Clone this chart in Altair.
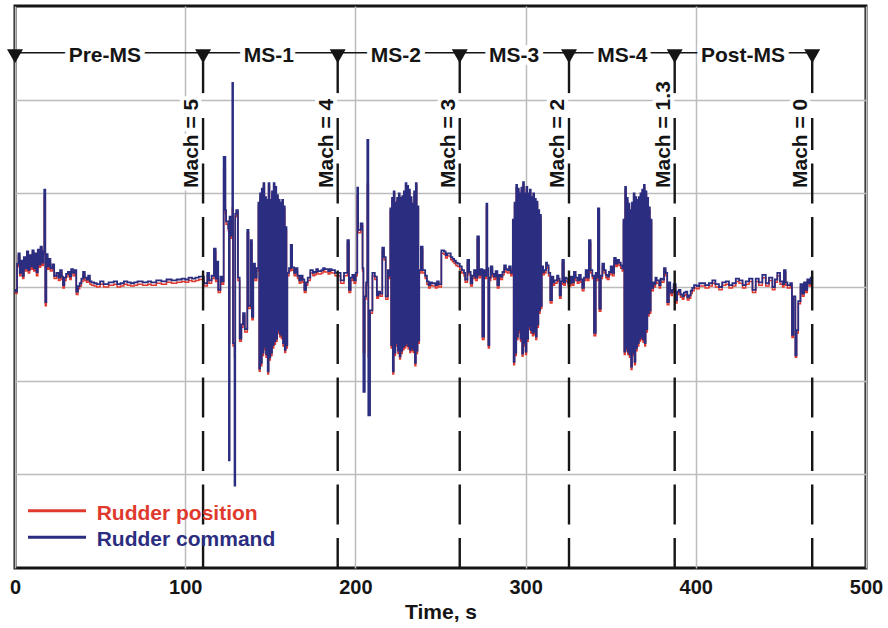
import altair as alt
import pandas as pd

# ---------------- data ----------------
# Rudder command, (time s, value) by phase
CMD_PRE = [(0, -0.3), (0.5, -0.5), (1.2, 2.5), (2.0, 3.6), (2.8, 1.5), (3.5, 2.8), (4.5, 1.2), (5.2, 3.2),
           (6.0, 2.0), (7.0, 3.8), (7.8, 1.8), (8.6, 3.4), (9.4, 2.2), (10.2, 3.9), (11.0, 2.0), (11.8, 3.6),
           (12.6, 1.6), (13.4, 4.0), (14.2, 2.4), (15.0, 4.3), (15.8, 2.6), (16.6, 3.8), (17.2, 10.4),
           (17.8, -1.6), (18.4, 3.5), (19.2, 2.2), (20.0, 3.0), (20.8, 2.0), (22.0, 2.4), (23.0, 1.2),
           (24.3, 1.5), (25.5, 1.0), (26.5, 1.8), (27.5, 1.1), (28.2, 0.2), (29.0, 1.0), (30.0, 1.4),
           (31.1, 1.6), (32.2, 1.1), (33.0, 1.9), (34.1, 1.5), (35.2, 1.8), (36.0, -0.5), (37.0, 0.1),
           (38.0, 0.4), (39.0, 0.9), (40.0, 1.6), (41.0, 1.0), (42.0, 0.8), (43.0, 1.2), (44.0, 0.6),
           (45.0, 0.5), (46.5, 0.4), (48.0, 0.3), (50.0, 0.6), (52.0, 0.3), (55.0, 0.5), (58.0, 0.6),
           (60.0, 0.3), (62.0, 0.4), (64.0, 0.6), (66.0, 0.5), (68.0, 0.4), (70.0, 0.5), (72.0, 0.6),
           (75.0, 0.5), (78.0, 0.6), (80.0, 0.5), (83.0, 0.7), (86.0, 0.6), (89.0, 0.8), (92.0, 0.7),
           (95.0, 0.8), (98.0, 0.9), (100.0, 0.8), (102.0, 1.0), (104.0, 0.9), (106.0, 1.0), (108.0, 1.1),
           (109.1, 1.1)]
CMD_MS1 = [(111.0, 0.4), (113.0, 1.5), (114.0, 0.7), (115.5, 1.2), (116.9, 4.1), (117.9, 0.9), (118.8, 2.7),
           (119.4, -0.3), (120.7, 1.1), (121.6, 0.6), (122.6, 13.9), (123.6, 8.2), (124.0, 7.0), (125.3, 6.3),
           (125.7, -18.5), (126.1, 7.5), (126.8, 5.5), (127.7, 21.8), (128.1, -6.0), (129.0, -21.2),
           (129.4, 7.8), (130.0, 8.2), (131.0, 1.0), (132.0, -5.5), (133.0, -4.0), (134.0, -2.8),
           (135.0, -4.5), (136.5, 6.1), (137.2, -2.0), (138.5, 5.0), (139.2, -3.2), (140.0, 2.5),
           (141.0, 1.0), (142.0, 2.0),
           (143.0, 9.0), (143.5, -8.7), (144.0, 10.0), (144.5, -8.1), (145.0, 10.5), (145.5, -7.0),
           (146.0, 11.1), (146.5, -6.4), (147.0, 9.6), (147.5, -7.2), (148.0, 9.3), (148.5, -9.0),
           (149.0, 11.1), (149.5, -7.5), (150.0, 9.3), (150.5, -7.0), (151.0, 10.2), (151.5, -6.2),
           (152.0, 11.1), (152.5, -5.8), (153.0, 10.7), (153.5, -5.5), (154.0, 9.8), (154.5, -4.6),
           (155.0, 9.3), (155.5, -5.0), (156.0, 9.0), (156.5, -5.2), (157.0, 9.3), (157.5, -6.0),
           (158.0, 8.6), (158.5, -6.7), (159.0, 6.4), (159.5, -6.2),
           (160.0, 1.5), (161.0, 2.0), (162.0, 4.5), (162.8, 2.1), (164.0, 1.5), (165.0, 2.0), (166.0, 1.2),
           (167.0, 0.7), (168.0, 1.2), (169.0, 0.8), (170.0, -0.3), (171.0, 0.5), (172.0, 1.0), (173.5, 1.8),
           (175.0, 1.5), (176.0, 1.6), (177.0, 1.9), (178.0, 1.7), (180.0, 1.8), (181.0, 2.0), (182.0, 1.9),
           (184.0, 1.7), (185.0, 1.9), (186.0, 1.8), (188.0, 1.5), (189.4, 1.5)]
CMD_MS2 = [(191.3, 0.7), (193.3, 1.5), (195.3, 5.0), (196.2, -0.3), (197.2, 1.0), (198.2, 1.3), (199.2, 0.7),
           (200.2, 1.5), (201.1, 10.6), (201.6, 6.1), (203.1, 6.8), (204.2, 2.0), (204.7, -11.2),
           (205.5, -1.0), (206.3, 0.5), (207.0, 15.7), (207.6, -13.7), (208.6, -2.5), (210.0, 1.5),
           (211.4, 1.1), (212.6, -0.9), (213.5, -0.5), (214.5, -0.7), (215.8, 4.2), (216.8, 3.2),
           (217.8, -1.0), (219.1, 1.8), (220.0, 1.2),
           (220.5, 8.4), (221.0, -6.2), (221.5, 9.5), (222.0, -9.0), (222.5, 10.2), (223.0, -7.0),
           (223.5, 9.0), (224.0, -6.0), (224.5, 9.5), (225.0, -6.8), (225.5, 10.0), (226.0, -7.4),
           (226.5, 9.5), (227.0, -6.8), (227.5, 9.7), (228.0, -6.4), (228.5, 10.2), (229.0, -6.2),
           (229.5, 11.1), (230.0, -6.0), (230.5, 10.8), (231.0, -6.3), (231.5, 10.4), (232.0, -6.7),
           (232.5, 9.6), (233.0, -6.5), (233.5, 8.9), (234.0, -6.7), (234.5, 10.2), (235.0, -8.1),
           (235.5, 11.1), (236.0, -6.8), (236.5, 8.6), (237.0, -5.7),
           (237.5, 1.8), (238.5, 4.3), (239.5, 1.8), (241.0, 1.2), (242.0, 0.6), (243.0, 0.2), (244.0, 0.5),
           (245.0, 0.4), (247.0, 0.2), (248.0, 0.6), (249.0, 0.3), (250.5, 3.9), (252.0, 3.8), (253.0, 3.4),
           (254.0, 3.6), (256.0, 3.2), (257.0, 3.0), (258.0, 2.8), (259.0, 2.6), (260.0, 2.5), (261.3, 2.2)]
CMD_MS3 = [(262.5, 1.8), (263.8, 1.5), (264.5, 0.8), (265.8, 2.9), (266.8, 1.6), (267.7, 0.4), (268.7, 1.2),
           (269.7, 1.8), (270.6, 1.0), (271.6, 5.4), (272.6, 1.3), (273.6, 1.9), (274.6, -5.3), (275.6, 1.8),
           (276.3, 1.2), (277.0, 8.9), (277.5, 2.0), (278.1, -6.2), (278.7, 1.0), (279.5, 2.2), (280.5, 1.4),
           (281.4, 1.1), (282.4, 1.7), (283.4, 0.2), (284.4, 1.3), (285.4, 1.1), (286.4, 1.6), (287.4, 2.3),
           (288.4, 1.9), (289.3, 1.8), (290.3, 2.2), (291.3, 1.5), (292.0, 1.7),
           (292.5, 7.2), (293.0, -8.0), (293.5, 9.0), (294.0, -7.0), (294.5, 10.9), (295.0, -5.3),
           (295.5, 10.5), (296.0, -4.6), (296.5, 10.0), (297.0, -5.5), (297.5, 10.6), (298.0, -7.1),
           (298.5, 11.2), (299.0, -6.0), (299.5, 10.0), (300.0, -6.9), (300.5, 10.7), (301.0, -5.5),
           (301.5, 10.0), (302.0, -4.2), (302.5, 10.4), (303.0, -4.6), (303.5, 9.6), (304.0, -4.9),
           (304.5, 10.0), (305.0, -4.8), (305.5, 9.4), (306.0, -5.3), (306.5, 9.1), (307.0, -4.0),
           (307.5, 8.2), (308.0, -2.5), (308.5, 7.7), (309.0, -2.0),
           (309.5, 2.2), (310.3, 1.6), (311.0, 1.8), (312.0, 2.6), (312.6, 2.3), (313.5, 1.5), (314.5, -1.4),
           (315.5, 1.1), (316.3, 0.5), (317.0, 0.7), (318.5, 1.2), (319.3, 0.9), (320.0, -0.9), (320.8, 0.6),
           (321.6, 2.9), (322.5, 0.5), (323.3, 1.0), (324.0, 0.9), (325.0, 0.4)]
CMD_MS4 = [(326.5, 1.1), (327.5, 0.5), (328.4, 1.6), (329.4, 1.0), (330.4, 0.7), (331.4, 1.3), (332.4, 0.8),
           (333.3, -0.1), (334.3, 1.0), (335.3, 1.8), (336.3, 1.0), (337.2, 5.0), (338.2, 1.8), (339.2, 1.2),
           (340.2, -4.9), (341.2, 1.5), (341.9, 1.0), (342.5, 8.4), (343.3, -2.3), (344.2, 1.2), (345.1, 2.5),
           (346.1, 1.8), (347.1, 1.3), (348.0, 1.1), (349.0, 1.6), (350.0, 2.2), (351.0, 1.5), (352.0, 3.1),
           (353.0, 2.5), (353.9, 2.9), (354.9, 2.6), (355.9, 2.3), (356.8, 2.0),
           (357.5, 7.2), (358.0, -6.9), (358.5, 10.7), (359.0, -6.5), (359.5, 9.5), (360.0, -6.9),
           (360.5, 8.9), (361.0, -7.2), (361.5, 8.2), (362.0, -8.5), (362.5, 9.0), (363.0, -7.0),
           (363.5, 10.0), (364.0, -8.0), (364.5, 9.6), (365.0, -6.5), (365.5, 9.3), (366.0, -6.0),
           (366.5, 9.6), (367.0, -5.5), (367.5, 10.0), (368.0, -5.3), (368.5, 10.4), (369.0, -5.6),
           (369.5, 10.9), (370.0, -6.0), (370.5, 10.2), (371.0, -4.5), (371.5, 9.5), (372.0, -2.8),
           (372.5, 8.5), (373.0, -2.5), (373.5, 7.2),
           (374.0, -0.1), (375.0, 0.5), (375.5, 0.3), (376.3, 1.0), (377.0, 0.7), (378.5, 0.2), (379.3, 0.9),
           (380.0, 0.8), (381.3, 2.0), (382.3, 1.5), (383.2, -1.6), (384.2, 0.5), (385.0, -0.4), (385.5, -0.6),
           (386.2, -0.3), (387.0, 0.3)]
CMD_POST = [(388.2, -1.4), (389.0, -0.5), (390.0, -0.3), (391.0, -0.8), (392.1, -1.0), (393.0, -0.6),
            (394.0, -0.5), (395.0, -1.1), (396.0, -0.9), (397.0, -0.4), (397.9, -0.1), (399.0, 0.2),
            (400.5, 0.1), (402.0, 0.4), (403.8, 0.4), (405.5, 0.2), (407.7, 0.4), (409.7, 0.7), (411.5, 0.3),
            (413.6, 0.0), (415.5, 0.5), (417.6, 0.6), (419.5, 0.2), (421.5, 0.4), (423.5, 0.9), (425.4, 0.7),
            (427.5, 0.2), (429.3, 0.6), (431.3, 0.9), (433.3, -0.3), (435.2, 0.9), (437.0, 0.5), (439.1, 1.3),
            (441.1, 0.4), (443.0, 1.0), (445.0, 0.0), (446.5, 0.8), (447.9, 1.5), (449.5, 0.6), (451.0, 0.3),
            (451.8, 1.8), (452.8, 0.5), (453.8, 0.2), (455.5, 0.4), (456.5, -5.1), (457.3, -1.0),
            (458.5, -7.3), (459.2, -4.6), (460.2, -1.5), (461.5, 0.3), (462.6, -0.7), (463.6, 0.5),
            (464.6, -0.3), (465.5, 0.8), (466.5, 0.4), (467.5, 1.0), (468.4, 0.2)]

# Rudder position, (time s, value) by phase
POS_PRE = [(0, -0.6), (0.5, -0.7), (1.2, 2.2), (2.0, 3.3), (2.8, 1.2), (3.5, 2.5), (4.5, 0.9), (5.2, 2.9),
           (6.0, 1.7), (7.0, 3.5), (7.8, 1.5), (8.6, 3.1), (9.4, 1.9), (10.2, 3.6), (11.0, 1.7), (11.8, 3.3),
           (12.6, 1.2), (13.4, 3.7), (14.2, 2.1), (15.0, 4.0), (15.8, 2.3), (16.6, 3.5), (17.2, 9.8),
           (17.8, -2.0), (18.4, 3.1), (19.2, 1.9), (20.0, 2.7), (20.8, 1.7), (22.0, 2.1), (23.0, 0.9),
           (24.3, 1.2), (25.5, 0.7), (26.5, 1.5), (27.5, 0.8), (28.2, -0.1), (29.0, 0.7), (30.0, 1.1),
           (31.1, 1.3), (32.2, 0.8), (33.0, 1.6), (34.1, 1.2), (35.2, 1.5), (36.0, -0.8), (37.0, -0.2),
           (38.0, 0.1), (39.0, 0.6), (40.0, 1.3), (41.0, 0.7), (42.0, 0.5), (43.0, 0.9), (44.0, 0.3),
           (45.0, 0.2), (46.5, 0.1), (48.0, 0.0), (50.0, 0.3), (52.0, 0.0), (55.0, 0.2), (58.0, 0.3),
           (60.0, 0.0), (62.0, 0.1), (64.0, 0.3), (66.0, 0.2), (68.0, 0.1), (70.0, 0.2), (72.0, 0.3),
           (75.0, 0.2), (78.0, 0.3), (80.0, 0.2), (83.0, 0.4), (86.0, 0.3), (89.0, 0.5), (92.0, 0.4),
           (95.0, 0.5), (98.0, 0.6), (100.0, 0.5), (102.0, 0.7), (104.0, 0.6), (106.0, 0.7), (108.0, 0.8),
           (109.1, 0.8)]
POS_MS1 = [(111.0, 0.1), (113.0, 1.2), (114.0, 0.4), (115.5, 0.9), (116.9, 3.8), (117.9, 0.6), (118.8, 2.4),
           (119.4, -0.6), (120.7, 0.8), (121.6, 0.3), (122.6, 12.5), (123.6, 7.9), (124.0, 6.7), (125.3, 6.0),
           (125.7, -6.0), (126.1, 7.2), (126.8, 5.2), (127.7, 8.5), (128.1, -6.3), (129.0, -7.5),
           (129.4, 7.5), (130.0, 7.9), (131.0, 0.7), (132.0, -5.8), (133.0, -4.3), (134.0, -3.1),
           (135.0, -4.8), (136.5, 5.8), (137.2, -2.3), (138.5, 4.7), (139.2, -3.5), (140.0, 2.2),
           (141.0, 0.7), (142.0, 1.7),
           (143.0, 8.7), (143.5, -9.0), (144.0, 9.7), (144.5, -8.4), (145.0, 10.2), (145.5, -7.3),
           (146.0, 10.8), (146.5, -6.7), (147.0, 9.3), (147.5, -7.5), (148.0, 9.0), (148.5, -9.3),
           (149.0, 10.8), (149.5, -7.8), (150.0, 9.0), (150.5, -7.3), (151.0, 9.9), (151.5, -6.5),
           (152.0, 10.8), (152.5, -6.1), (153.0, 10.4), (153.5, -5.8), (154.0, 9.5), (154.5, -4.9),
           (155.0, 9.0), (155.5, -5.3), (156.0, 8.7), (156.5, -5.5), (157.0, 9.0), (157.5, -6.3),
           (158.0, 8.3), (158.5, -7.0), (159.0, 6.1), (159.5, -6.5),
           (160.0, 1.2), (161.0, 1.7), (162.0, 4.2), (162.8, 1.8), (164.0, 1.2), (165.0, 1.7), (166.0, 0.9),
           (167.0, 0.4), (168.0, 0.9), (169.0, 0.5), (170.0, -0.6), (171.0, 0.2), (172.0, 0.7), (173.5, 1.5),
           (175.0, 1.2), (176.0, 1.3), (177.0, 1.6), (178.0, 1.4), (180.0, 1.5), (181.0, 1.7), (182.0, 1.6),
           (184.0, 1.4), (185.0, 1.6), (186.0, 1.5), (188.0, 1.2), (189.4, 1.2)]
POS_MS2 = [(191.3, 0.4), (193.3, 1.2), (195.3, 4.7), (196.2, -0.6), (197.2, 0.7), (198.2, 1.0), (199.2, 0.4),
           (200.2, 1.2), (201.1, 9.8), (201.6, 5.8), (203.1, 6.5), (204.2, 1.7), (204.7, -7.0),
           (205.5, -1.3), (206.3, 0.2), (207.0, 11.0), (207.6, -7.5), (208.6, -2.8), (210.0, 1.2),
           (211.4, 0.8), (212.6, -1.2), (213.5, -0.8), (214.5, -1.0), (215.8, 3.9), (216.8, 2.9),
           (217.8, -1.3), (219.1, 1.5), (220.0, 0.9),
           (220.5, 8.1), (221.0, -6.5), (221.5, 9.2), (222.0, -9.3), (222.5, 9.9), (223.0, -7.3),
           (223.5, 8.7), (224.0, -6.3), (224.5, 9.2), (225.0, -7.1), (225.5, 9.7), (226.0, -7.7),
           (226.5, 9.2), (227.0, -7.1), (227.5, 9.4), (228.0, -6.7), (228.5, 9.9), (229.0, -6.5),
           (229.5, 10.8), (230.0, -6.3), (230.5, 10.5), (231.0, -6.6), (231.5, 10.1), (232.0, -7.0),
           (232.5, 9.3), (233.0, -6.8), (233.5, 8.6), (234.0, -7.0), (234.5, 9.9), (235.0, -8.4),
           (235.5, 10.8), (236.0, -7.1), (236.5, 8.3), (237.0, -6.0),
           (237.5, 1.5), (238.5, 4.0), (239.5, 1.5), (241.0, 0.9), (242.0, 0.3), (243.0, -0.1), (244.0, 0.2),
           (245.0, 0.1), (247.0, -0.1), (248.0, 0.3), (249.0, 0.0), (250.5, 3.6), (252.0, 3.5), (253.0, 3.1),
           (254.0, 3.3), (256.0, 2.9), (257.0, 2.7), (258.0, 2.5), (259.0, 2.3), (260.0, 2.2), (261.3, 1.9)]
POS_MS3 = [(262.5, 1.5), (263.8, 1.2), (264.5, 0.5), (265.8, 2.6), (266.8, 1.3), (267.7, 0.1), (268.7, 0.9),
           (269.7, 1.5), (270.6, 0.7), (271.6, 5.1), (272.6, 1.0), (273.6, 1.6), (274.6, -5.6), (275.6, 1.5),
           (276.3, 0.9), (277.0, 8.6), (277.5, 1.7), (278.1, -6.5), (278.7, 0.7), (279.5, 1.9), (280.5, 1.1),
           (281.4, 0.8), (282.4, 1.4), (283.4, -0.1), (284.4, 1.0), (285.4, 0.8), (286.4, 1.3), (287.4, 2.0),
           (288.4, 1.6), (289.3, 1.5), (290.3, 1.9), (291.3, 1.2), (292.0, 1.4),
           (292.5, 6.9), (293.0, -8.3), (293.5, 8.7), (294.0, -7.3), (294.5, 10.6), (295.0, -5.6),
           (295.5, 10.2), (296.0, -4.9), (296.5, 9.7), (297.0, -5.8), (297.5, 10.3), (298.0, -7.4),
           (298.5, 10.9), (299.0, -6.3), (299.5, 9.7), (300.0, -7.2), (300.5, 10.4), (301.0, -5.8),
           (301.5, 9.7), (302.0, -4.5), (302.5, 10.1), (303.0, -4.9), (303.5, 9.3), (304.0, -5.2),
           (304.5, 9.7), (305.0, -5.1), (305.5, 9.1), (306.0, -5.6), (306.5, 8.8), (307.0, -4.3),
           (307.5, 7.9), (308.0, -2.8), (308.5, 7.4), (309.0, -2.3),
           (309.5, 1.9), (310.3, 1.3), (311.0, 1.5), (312.0, 2.3), (312.6, 2.0), (313.5, 1.2), (314.5, -1.7),
           (315.5, 0.8), (316.3, 0.2), (317.0, 0.4), (318.5, 0.9), (319.3, 0.6), (320.0, -1.2), (320.8, 0.3),
           (321.6, 2.6), (322.5, 0.2), (323.3, 0.7), (324.0, 0.6), (325.0, 0.1)]
POS_MS4 = [(326.5, 0.8), (327.5, 0.2), (328.4, 1.3), (329.4, 0.7), (330.4, 0.4), (331.4, 1.0), (332.4, 0.5),
           (333.3, -0.4), (334.3, 0.7), (335.3, 1.5), (336.3, 0.7), (337.2, 4.7), (338.2, 1.5), (339.2, 0.9),
           (340.2, -5.2), (341.2, 1.2), (341.9, 0.7), (342.5, 8.1), (343.3, -2.6), (344.2, 0.9), (345.1, 2.2),
           (346.1, 1.5), (347.1, 1.0), (348.0, 0.8), (349.0, 1.3), (350.0, 1.9), (351.0, 1.2), (352.0, 2.8),
           (353.0, 2.2), (353.9, 2.6), (354.9, 2.3), (355.9, 2.0), (356.8, 1.7),
           (357.5, 6.9), (358.0, -7.2), (358.5, 10.4), (359.0, -6.8), (359.5, 9.2), (360.0, -7.2),
           (360.5, 8.6), (361.0, -7.5), (361.5, 7.9), (362.0, -8.8), (362.5, 8.7), (363.0, -7.3),
           (363.5, 9.7), (364.0, -8.3), (364.5, 9.3), (365.0, -6.8), (365.5, 9.0), (366.0, -6.3),
           (366.5, 9.3), (367.0, -5.8), (367.5, 9.7), (368.0, -5.6), (368.5, 10.1), (369.0, -5.9),
           (369.5, 10.6), (370.0, -6.3), (370.5, 9.9), (371.0, -4.8), (371.5, 9.2), (372.0, -3.1),
           (372.5, 8.2), (373.0, -2.8), (373.5, 6.9),
           (374.0, -0.4), (375.0, 0.2), (375.5, 0.0), (376.3, 0.7), (377.0, 0.4), (378.5, -0.1), (379.3, 0.6),
           (380.0, 0.5), (381.3, 1.7), (382.3, 1.2), (383.2, -1.9), (384.2, 0.2), (385.0, -0.7), (385.5, -0.9),
           (386.2, -0.6), (387.0, 0.0)]
POS_POST = [(388.2, -1.7), (389.0, -0.8), (390.0, -0.6), (391.0, -1.1), (392.1, -1.3), (393.0, -0.9),
            (394.0, -0.8), (395.0, -1.4), (396.0, -1.2), (397.0, -0.7), (397.9, -0.4), (399.0, -0.1),
            (400.5, -0.2), (402.0, 0.1), (403.8, 0.1), (405.5, -0.1), (407.7, 0.1), (409.7, 0.4), (411.5, 0.0),
            (413.6, -0.3), (415.5, 0.2), (417.6, 0.3), (419.5, -0.1), (421.5, 0.1), (423.5, 0.6), (425.4, 0.4),
            (427.5, -0.1), (429.3, 0.3), (431.3, 0.6), (433.3, -0.6), (435.2, 0.6), (437.0, 0.2), (439.1, 1.0),
            (441.1, 0.1), (443.0, 0.7), (445.0, -0.3), (446.5, 0.5), (447.9, 1.2), (449.5, 0.3), (451.0, 0.0),
            (451.8, 1.5), (452.8, 0.2), (453.8, -0.1), (455.5, 0.1), (456.5, -5.4), (457.3, -1.3),
            (458.5, -7.5), (459.2, -4.9), (460.2, -1.8), (461.5, 0.0), (462.6, -1.0), (463.6, 0.2),
            (464.6, -0.6), (465.5, 0.5), (466.5, 0.1), (467.5, 0.7), (468.4, -0.1)]

SERIES = ["Rudder position", "Rudder command"]
MARK_T = [0, 110.5, 189.6, 261.3, 325.5, 387.6, 468.4]           # phase boundaries, s
PHASES = ["Pre-MS", "MS-1", "MS-2", "MS-3", "MS-4", "Post-MS"]
PHASE_T = [52.8, 149.2, 223.7, 293.2, 356.8, 427.7]              # label centres, s
MACH_LABELS = ["Mach = 5", "Mach = 4", "Mach = 3", "Mach = 2", "Mach = 1.3", "Mach = 0"]
X_TICKS = [0, 100, 200, 300, 400, 500]
Y_GRID = [-20, -10, 0, 10, 20]

# ---------------- styling ----------------
RED = "#e03a2f"
BLUE = "#2b2d80"
INK = "#151515"
GRID = "#bcbcbc"
FONT = "Liberation Sans"
HEADER_V = 25.0

cmd = CMD_PRE + CMD_MS1 + CMD_MS2 + CMD_MS3 + CMD_MS4 + CMD_POST
pos = POS_PRE + POS_MS1 + POS_MS2 + POS_MS3 + POS_MS4 + POS_POST
df_cmd = pd.DataFrame(cmd, columns=["t", "v"])
df_pos = pd.DataFrame(pos, columns=["t", "v"])
df_mark = pd.DataFrame({"t": MARK_T})
df_mach = pd.DataFrame({"t": MARK_T[1:], "label": MACH_LABELS})
df_phase = pd.DataFrame({"t": PHASE_T, "label": PHASES})
df_head = pd.DataFrame({"t0": [MARK_T[0]], "t1": [MARK_T[-1]]})

xs = alt.Scale(domain=[0, 500], nice=False, zero=False)
ys = alt.Scale(domain=[-30, 30], nice=False, zero=False)
xaxis = alt.Axis(values=X_TICKS, format="d", title="Time, s", grid=True, ticks=False, domain=False,
                 labelFlush=False, labelPadding=9, labelFont=FONT, labelFontSize=20,
                 labelFontWeight="bold", labelColor=INK, titleFont=FONT, titleFontSize=21,
                 titleFontWeight="bold", titleColor=INK, titleBaseline="alphabetic", titleY=50,
                 gridColor=GRID, gridWidth=1.5)
yaxis = alt.Axis(values=Y_GRID, title=None, labels=False, ticks=False, domain=False, grid=True,
                 gridColor=GRID, gridWidth=1.5)


def X(f):
    return alt.X(f"{f}:Q", scale=xs, axis=xaxis)


def Y(f):
    return alt.Y(f"{f}:Q", scale=ys, axis=yaxis)


pos_line = alt.Chart(df_pos).mark_line(color=RED, strokeWidth=1.5, interpolate="step-after").encode(
    x=X("t"), y=Y("v"))
cmd_line = alt.Chart(df_cmd).mark_line(color=BLUE, strokeWidth=1.8, interpolate="step-after").encode(
    x=X("t"), y=Y("v"))

head = alt.Chart(df_head).transform_calculate(hy=str(HEADER_V)).mark_rule(
    color=INK, strokeWidth=1.5).encode(x=X("t0"), x2="t1", y=Y("hy"))

halo_phase = alt.Chart(df_phase).transform_calculate(hy=str(HEADER_V)).mark_text(
    font=FONT, fontSize=21, fontWeight="bold", align="center", baseline="alphabetic", dy=8.7,
    fill="white", stroke="white", strokeWidth=10, strokeJoin="round").encode(
    x=X("t"), y=Y("hy"), text="label:N")
halo_mach = alt.Chart(df_mach).transform_calculate(ly="10.57").mark_text(
    font=FONT, fontSize=21, fontWeight="bold", align="left", baseline="alphabetic", angle=270, dy=-5,
    fill="white", stroke="white", strokeWidth=8, strokeJoin="round").encode(
    x=X("t"), y=Y("ly"), text="label:N")

mach_solid = alt.Chart(df_mach).transform_calculate(a=str(HEADER_V), b="20.7").mark_rule(
    color=INK, strokeWidth=2.4).encode(x=X("t"), y=Y("a"), y2="b:Q")
mach_dash = alt.Chart(df_mach).transform_calculate(a="-30", b="18.05").mark_rule(
    color=INK, strokeWidth=2.4, strokeDash=[40, 13.5], strokeDashOffset=10).encode(
    x=X("t"), y=Y("a"), y2="b:Q")

phase_text = alt.Chart(df_phase).transform_calculate(hy=str(HEADER_V)).mark_text(
    font=FONT, fontSize=21, fontWeight="bold", align="center", baseline="alphabetic", dy=8.7,
    color=INK).encode(x=X("t"), y=Y("hy"), text="label:N")
mach_text = alt.Chart(df_mach).transform_calculate(ly="10.57").mark_text(
    font=FONT, fontSize=21, fontWeight="bold", align="left", baseline="alphabetic", angle=270, dy=-5,
    color=INK).encode(x=X("t"), y=Y("ly"), text="label:N")

tri = alt.Chart(df_mark).transform_calculate(hy=str(HEADER_V)).mark_point(
    shape="M-1,-0.45L1,-0.45L0,1.3Z", size=256, filled=True, fill=INK, opacity=1, strokeWidth=0).encode(
    x=X("t"), y=Y("hy"))

one = pd.DataFrame({"k": [0]})
leg_red = alt.Chart(one).mark_rule(color=RED, strokeWidth=3).encode(
    x=alt.value(13), x2=alt.value(71), y=alt.value(504.7))
leg_blue = alt.Chart(one).mark_rule(color=BLUE, strokeWidth=3).encode(
    x=alt.value(13), x2=alt.value(71), y=alt.value(531.3))
leg_red_t = alt.Chart(one).mark_text(text=SERIES[0], font=FONT, fontSize=21, fontWeight="bold",
                                     align="left", baseline="alphabetic", color=RED).encode(
    x=alt.value(81.7), y=alt.value(514))
leg_blue_t = alt.Chart(one).mark_text(text=SERIES[1], font=FONT, fontSize=21, fontWeight="bold",
                                      align="left", baseline="alphabetic", color=BLUE).encode(
    x=alt.value(81.7), y=alt.value(540))

chart = alt.layer(
    pos_line, cmd_line, head, halo_phase, halo_mach, mach_solid, mach_dash, phase_text, mach_text, tri,
    leg_red, leg_blue, leg_red_t, leg_blue_t
).properties(
    width=851, height=562,
    padding={"left": 15, "top": 6, "right": 22, "bottom": 60},
    autosize=alt.AutoSizeParams(type="none"),
    background="white",
).configure_view(stroke=INK, strokeWidth=3)

chart.save("out.html", embed_options={"renderer": "svg", "actions": False})
